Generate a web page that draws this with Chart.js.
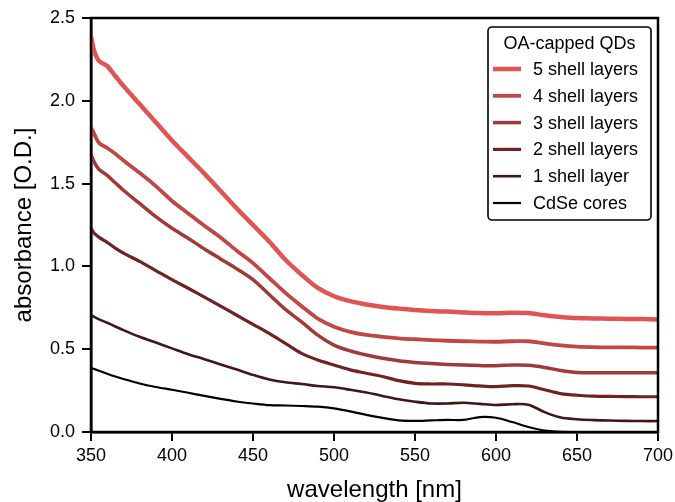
<!DOCTYPE html>
<html>
<head>
<meta charset="utf-8">
<script src="https://cdn.jsdelivr.net/npm/chart.js@4.4.1/dist/chart.umd.min.js"></script>
<style>
  html, body { margin: 0; padding: 0; background: #fff; }
  #wrap { width: 675px; height: 502px; }
</style>
</head>
<body>
<div id="wrap"><canvas id="absChart" width="675" height="502"></canvas></div>
<script>
// wavelength grid (nm) shared by every spectrum
const wavelengths = [350, 352, 355, 360, 365, 370, 380, 390, 400, 410, 420, 430, 440, 450, 460, 470, 480, 490, 500,
  510, 520, 530, 540, 550, 560, 570, 580, 590, 600, 610, 620, 630, 640, 650, 660, 670, 680, 690, 700];

const shell5 = [2.39, 2.30, 2.24, 2.21, 2.15, 2.09, 1.98, 1.87, 1.76, 1.66, 1.56, 1.455, 1.35, 1.25, 1.15, 1.04, 0.95, 0.87, 0.82,
  0.79, 0.77, 0.755, 0.745, 0.737, 0.73, 0.727, 0.722, 0.718, 0.717, 0.72, 0.718, 0.705, 0.695, 0.688, 0.686, 0.684, 0.683, 0.682, 0.68];
const shell4 = [1.84, 1.80, 1.745, 1.715, 1.68, 1.64, 1.565, 1.485, 1.395, 1.32, 1.245, 1.175, 1.095, 1.02, 0.93, 0.84, 0.76, 0.685, 0.636,
  0.605, 0.586, 0.575, 0.566, 0.56, 0.555, 0.551, 0.548, 0.546, 0.545, 0.548, 0.548, 0.535, 0.523, 0.515, 0.512, 0.511, 0.511, 0.51, 0.51];
const shell3 = [1.675, 1.63, 1.585, 1.55, 1.505, 1.46, 1.38, 1.30, 1.23, 1.17, 1.105, 1.045, 0.985, 0.92, 0.83, 0.74, 0.665, 0.585, 0.525,
  0.49, 0.465, 0.445, 0.43, 0.42, 0.413, 0.408, 0.404, 0.401, 0.40, 0.405, 0.403, 0.39, 0.372, 0.36, 0.358, 0.358, 0.358, 0.358, 0.358];
const shell2 = [1.23, 1.20, 1.175, 1.145, 1.11, 1.08, 1.03, 0.975, 0.92, 0.868, 0.815, 0.76, 0.705, 0.65, 0.595, 0.535, 0.475, 0.435, 0.405,
  0.375, 0.355, 0.335, 0.31, 0.294, 0.29, 0.29, 0.285, 0.278, 0.274, 0.28, 0.278, 0.255, 0.232, 0.222, 0.217, 0.215, 0.214, 0.213, 0.213];
const shell1 = [0.707, 0.695, 0.68, 0.66, 0.637, 0.615, 0.575, 0.54, 0.505, 0.47, 0.44, 0.408, 0.377, 0.345, 0.317, 0.30, 0.29, 0.278, 0.27,
  0.255, 0.238, 0.218, 0.198, 0.183, 0.172, 0.172, 0.177, 0.17, 0.163, 0.168, 0.165, 0.12, 0.087, 0.077, 0.072, 0.069, 0.067, 0.066, 0.066];
const cores = [0.388, 0.38, 0.37, 0.352, 0.335, 0.32, 0.293, 0.272, 0.255, 0.237, 0.218, 0.20, 0.184, 0.172, 0.162, 0.16, 0.157, 0.153, 0.143,
  0.125, 0.103, 0.085, 0.07, 0.067, 0.07, 0.073, 0.073, 0.09, 0.086, 0.06, 0.03, 0.008, 0.001, 0.0, 0.0, 0.0, 0.0, 0.0, 0.0];

const seriesNames = ['5 shell layers', '4 shell layers', '3 shell layers', '2 shell layers', '1 shell layer', 'CdSe cores'];
const seriesData = [shell5, shell4, shell3, shell2, shell1, cores];
const seriesColors = ['#e05454', '#c24646', '#a03a3a', '#6e2222', '#3f1717', '#000000'];
const seriesWidths = [4.5, 3.8, 3.5, 3.2, 2.6, 2.2];

const xTicks = [350, 400, 450, 500, 550, 600, 650, 700];
const yTicks = [0.0, 0.5, 1.0, 1.5, 2.0, 2.5];

const FONT = 'Liberation Sans, Arial, sans-serif';

// frame + legend box drawn on top of the lines
const framePlugin = {
    id: 'frame',
    afterDatasetsDraw: function(chart) {
        const ctx = chart.ctx;
        const a = chart.chartArea;
        ctx.save();
        ctx.strokeStyle = '#000';
        ctx.lineWidth = 2.5;
        ctx.strokeRect(a.left, a.top, a.right - a.left, a.bottom - a.top);

        // legend
        const bx = 488, by = 27, bw = 163, bh = 193;
        ctx.beginPath();
        ctx.roundRect(bx, by, bw, bh, 4);
        ctx.fillStyle = '#fff';
        ctx.fill();
        ctx.lineWidth = 1.6;
        ctx.strokeStyle = '#000';
        ctx.stroke();

        ctx.fillStyle = '#000';
        ctx.font = '18px ' + FONT;
        ctx.textBaseline = 'middle';
        ctx.textAlign = 'center';
        ctx.fillText('OA-capped QDs', bx + bw / 2, 44);

        ctx.textAlign = 'left';
        chart.data.datasets.forEach(function(ds, i) {
            const y = 69 + i * 26.8;
            ctx.beginPath();
            ctx.moveTo(493, y);
            ctx.lineTo(521, y);
            ctx.strokeStyle = ds.borderColor;
            ctx.lineWidth = ds.borderWidth;
            ctx.stroke();
            ctx.fillStyle = '#000';
            ctx.fillText(ds.label, 533, y + 1);
        });
        ctx.restore();
    }
};

const ctx = document.getElementById('absChart').getContext('2d');
const absChart = new Chart(ctx, {
    type: 'line',
    data: {
        datasets: seriesNames.map(function(name, i) {
            return {
                label: name,
                data: wavelengths.map(function(w, j) { return { x: w, y: seriesData[i][j] }; }),
                borderColor: seriesColors[i],
                borderWidth: seriesWidths[i],
                pointRadius: 0,
                fill: false,
                tension: 0.3
            };
        })
    },
    options: {
        responsive: false,
        animation: false,
        layout: { padding: { top: 18, right: 17, left: 0, bottom: 0 } },
        plugins: {
            legend: { display: false },
            tooltip: { enabled: false }
        },
        scales: {
            x: {
                type: 'linear',
                min: 350,
                max: 700,
                afterFit: function(scale) {
                    scale.height = 70;
                    scale.paddingLeft = 0;
                    scale.paddingRight = 0;
                },
                afterBuildTicks: function(scale) { scale.ticks = xTicks.map(function(v) { return { value: v }; }); },
                grid: { drawOnChartArea: false, color: '#000', lineWidth: 2, tickLength: 9 },
                border: { display: true, color: '#000', width: 2.5 },
                ticks: { color: '#000', font: { family: FONT, size: 18 }, padding: 4, maxRotation: 0 },
                title: {
                    display: true,
                    text: 'wavelength [nm]',
                    color: '#000',
                    font: { family: FONT, size: 24, lineHeight: 1 },
                    padding: { top: 0, bottom: 0 }
                }
            },
            y: {
                min: 0,
                max: 2.5,
                afterFit: function(scale) { scale.width = 91; },
                afterBuildTicks: function(scale) { scale.ticks = yTicks.map(function(v) { return { value: v }; }); },
                grid: { drawOnChartArea: false, color: '#000', lineWidth: 2, tickLength: 9 },
                border: { display: true, color: '#000', width: 2.5 },
                ticks: {
                    color: '#000',
                    font: { family: FONT, size: 18 },
                    padding: 7,
                    callback: function(v) { return v.toFixed(1); }
                },
                title: {
                    display: true,
                    text: 'absorbance [O.D.]',
                    color: '#000',
                    font: { family: FONT, size: 24, lineHeight: 1 },
                    padding: { top: 12, bottom: 0 }
                }
            }
        }
    },
    plugins: [framePlugin]
});
</script>
</body>
</html>
